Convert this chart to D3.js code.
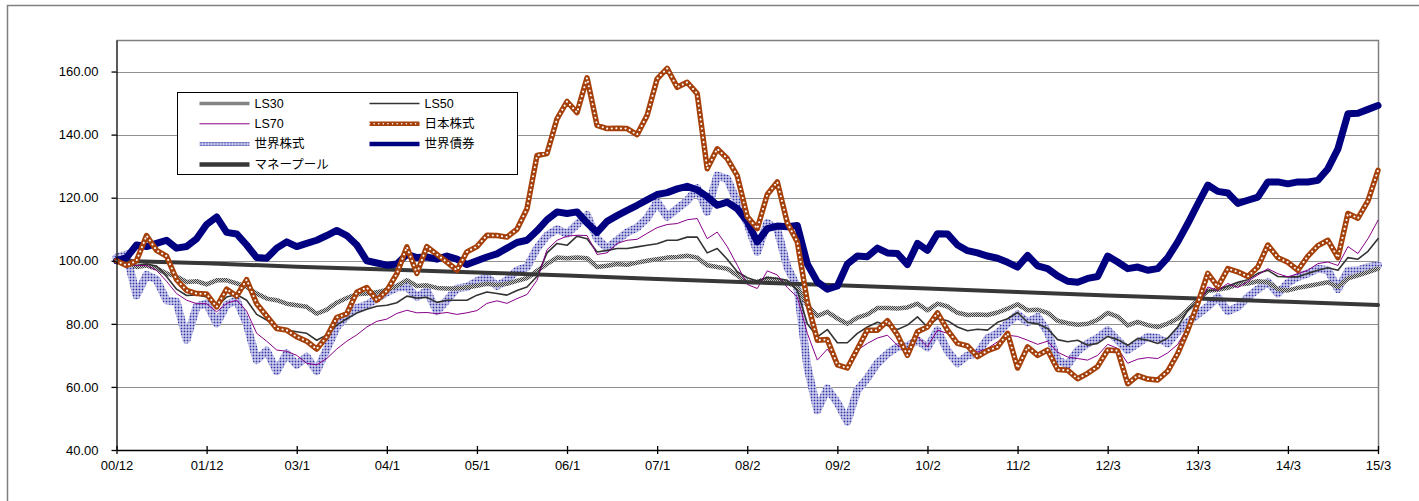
<!DOCTYPE html>
<html>
<head>
<meta charset="utf-8">
<script src="https://cdn.jsdelivr.net/npm/d3@7"></script>
<style>
  body { margin: 0; background: #fff; }
  text { font-family: "Liberation Sans", Arial, "Noto Sans CJK JP", sans-serif; fill: #000; }
</style>
</head>
<body>
<svg id="chart" width="1419" height="501"></svg>
<script>
// tick labels on the category axis
var xLabels = ["00/12", "01/12", "03/1", "04/1", "05/1", "06/1", "07/1", "08/2",
    "09/2", "10/2", "11/2", "12/3", "13/3", "14/3", "15/3"];
var yTicks = [40, 60, 80, 100, 120, 140, 160];

// series, sampled evenly from 00/12 to 15/3
var ls30 = [100, 99.5, 98, 98.5, 97.5, 96, 95, 93.3, 93.5, 92.5,
    93.8, 93.8, 92.8, 91.7, 89.6, 88, 87.5, 86.4, 85.9, 85.4,
    83.2, 84.5, 86.7, 88.2, 89.4, 89.6, 90, 90.8, 92, 93.8,
    92, 92.2, 91.4, 91.2, 91.2, 91.6, 92.1, 92.7, 92.3, 92.7,
    93.6, 94.5, 96.8, 99, 101, 100.8, 101, 100.8, 98, 98.4,
    99, 98.7, 99.4, 100, 100.5, 101, 101.2, 101.6, 101, 98.6,
    98, 97.5, 95.4, 93.3, 93.3, 94.4, 94, 93, 91.7, 85.9,
    82.5, 83.8, 81.7, 80, 82, 83, 85, 85, 84.9, 85.2,
    86.4, 84.3, 86.4, 85.5, 83.5, 82.8, 83, 82.8, 83.6, 84.8,
    86.2, 84.3, 84.5, 83.5, 81, 80.2, 79.7, 80, 81.3, 83.5,
    82.3, 79.5, 80.6, 79.6, 79, 80.1, 81.7, 84.5, 87.5, 90.5,
    90.8, 91.4, 92.5, 92.8, 93.5, 93.2, 91, 90.6, 91.4, 92,
    92.6, 93.2, 91.7, 94.4, 95.4, 96.4, 97.5];

var ls50 = [100, 99.3, 98.5, 99, 98.3, 95, 91, 89, 89.2, 88.5,
    85.4, 88.5, 89.3, 87.5, 83, 81.2, 79, 78, 77.5, 77,
    74.8, 76.5, 79.6, 81.6, 83.4, 84.6, 85.6, 85.9, 86.7, 88.8,
    88.2, 88.4, 86.8, 87.5, 87.5, 87.5, 89.1, 90.1, 89.6, 89.1,
    90.6, 91.7, 95, 102.5, 105.5, 104.9, 107.8, 107, 102.8, 103.3,
    103.9, 103.9, 104.4, 104.9, 105.4, 106.5, 106.5, 107.5, 107.5, 102.5,
    103.9, 100.5, 96.5, 94.6, 93.6, 94.7, 94.4, 93.8, 90.6, 80,
    75.9, 78.2, 74, 74, 77, 79, 80.5, 79.5, 78.2, 79.6,
    82.2, 79, 81.7, 81, 79, 77.8, 78.3, 78, 80.5, 81.6,
    83.6, 80.5, 80, 78.5, 75, 74.3, 74.8, 73.2, 73.8, 76,
    75, 73.2, 75.4, 74.8, 73.8, 75.5, 79, 84.3, 87, 90.5,
    90.8, 92, 93.2, 94, 96, 97, 95, 94.9, 94.9, 96,
    97, 97.8, 97, 101, 100.5, 103, 107];

var ls70 = [100, 99, 98.5, 98.5, 97, 93.5, 89.6, 87.5, 86.4, 86.4,
    83.8, 86.5, 87.5, 84, 77, 74.5, 71.7, 71.3, 70, 67.5,
    67, 69, 72, 74.5, 76.5, 79, 80.8, 81.5, 83.3, 84.3,
    83.5, 83.6, 83.2, 83.6, 83, 83.5, 84.2, 86.5, 87.3, 86.5,
    88, 89.3, 93.8, 103.5, 106.5, 107.8, 108.1, 108, 102, 102.5,
    105.5, 106.5, 106.8, 108.7, 110.5, 111.5, 111.8, 113, 113.4, 107,
    109.1, 104.5, 98.6, 92.5, 91.2, 96.8, 95.5, 91.5, 88.5, 77,
    68.5, 72, 67.5, 66, 71.7, 73.8, 75.5, 76.4, 73.2, 71.7,
    75.9, 72.7, 78, 77, 74, 72.7, 71.1, 72.2, 74.3, 76.4,
    76, 74.8, 73.5, 74.5, 71, 69.5, 69, 68.5, 70, 73.5,
    72.2, 67.5, 68.8, 69.3, 69, 70.8, 73.5, 79, 85.4, 91.7,
    90.6, 92.8, 91.5, 93.5, 95.5, 97.5, 95.9, 94.9, 95.9, 97,
    99.1, 99.6, 98.5, 104.5, 102.3, 107, 112.8];

var jpStock = [100, 98.5, 100, 108, 103.3, 101.5, 94, 90.6, 89.6, 89.5,
    85.4, 91, 88.8, 94, 86.4, 82.5, 78.5, 78, 75.9, 74.5,
    72, 75.9, 82, 83.2, 90, 91.5, 87.5, 90.5, 95.9, 104.4,
    96, 104.5, 102, 99.6, 97, 102.8, 104.5, 108.1, 108, 107.5,
    110, 116.5, 133.4, 134, 145, 150.5, 147, 158, 142.9, 141.9,
    142, 141.9, 140, 146.1, 157.7, 161, 155, 156.6, 153, 129.2,
    135.5, 132.4, 127, 114, 110.2, 121, 125, 112, 106, 87,
    74.8, 75, 67, 66, 72, 78, 78, 81, 76.5, 70,
    77.5, 79, 83.5, 78, 73.8, 73, 69.6, 71.5, 72.7, 77,
    66, 72.7, 70, 71.7, 65.5, 65.3, 62.6, 64.3, 66.5, 71.7,
    71.5, 61, 63.6, 62.5, 62.2, 65, 70.6, 78, 86.5, 96,
    91.7, 97.5, 96.5, 95, 98, 105, 101, 99.5, 97, 101.5,
    104.8, 106.5, 101, 115, 113.5, 119, 128.7];

var wStock = [101, 102, 89, 95.5, 94, 87.5, 87, 75, 85.5, 86.5,
    80.1, 86, 87.5, 80, 68.5, 71.5, 65, 70.6, 67, 69.6,
    65, 72, 79, 82.5, 85, 86, 88, 90, 91.5, 91.7,
    88.5, 90.5, 84, 87.5, 91.2, 91.7, 93.5, 94.9, 92, 93.8,
    97, 98, 104, 108, 110, 108.5, 111.5, 114.5, 107, 103.9,
    106.5, 109, 110.5, 113.5, 118.6, 114, 116.5, 119, 123, 115.5,
    127, 126, 118.6, 112, 102.8, 112, 110, 98, 91.7, 66.4,
    52.6, 59.5, 55, 49, 59, 62.8, 67.5, 70.5, 72.7, 73,
    74.8, 72.5, 78, 71.5, 67.5, 70, 70.6, 75.4, 77, 80.2,
    83, 80.5, 82.2, 77.5, 68.5, 67, 71.5, 73.8, 75.5, 78,
    74.8, 71.7, 73.8, 75.9, 75.5, 73.8, 77.5, 80.6, 83, 85.5,
    88.5, 84, 85.4, 88.5, 91, 93.3, 89.6, 93, 94.9, 96,
    97.5, 97, 91, 96.8, 97, 98, 98.6];

var wBond = [100, 101, 105, 104.5, 105.5, 106.5, 104, 104.5, 107, 111.5,
    113.9, 109, 108.5, 105, 101, 100.8, 104, 106, 104.5, 105.5,
    106.5, 108, 109.6, 108, 105, 100, 99.3, 98.6, 99, 102,
    101, 101.2, 100.5, 101.5, 100.5, 98.8, 100, 101.2, 102.2, 104,
    105.8, 106.5, 109.5, 113, 115.5, 115, 115.5, 112, 109, 112.5,
    114.3, 116, 117.6, 119.3, 121, 121.6, 122.8, 123.6, 122.5, 120.3,
    117.6, 118.6, 116.5, 112.5, 106, 110.2, 111, 110.8, 111.2, 99,
    93.3, 91, 92, 99, 101.5, 101.3, 104, 102.5, 102.3, 98.8,
    105.5, 103.3, 108.6, 108.5, 105, 103.2, 102.5, 101.5, 100.8, 99.5,
    98, 101.7, 98.4, 97.5, 95.2, 93.5, 93.2, 94.4, 95, 101.5,
    99.6, 97.5, 98, 97, 97.5, 101, 106, 111.8, 118, 124,
    122, 121.5, 118.2, 119.2, 120.2, 125, 125, 124.4, 125, 125,
    125.5, 129.2, 135.5, 146.6, 146.8, 148, 149.2];

// one value per axis label
var moneyPool = [100, 99.2, 98.1, 97.2, 96.3, 95.3, 94.2, 93.2, 92.2, 91.2,
    90.1, 89, 88, 87, 86];

var svg = d3.select("#chart");

// outer chart frame
svg.append("rect")
    .attr("x", 7.5).attr("y", 5.5)
    .attr("width", 1430).attr("height", 520)
    .attr("fill", "none")
    .attr("stroke", "#808080")
    .attr("stroke-width", 1.5);

var X = d3.scaleLinear().domain([0, xLabels.length - 1]).range([116.5, 1378]);
var Y = d3.scaleLinear().domain([40, 170]).range([450, 40]);

// patterns for the textured lines
var defs = svg.append("defs");
var p30 = defs.append("pattern").attr("id", "patLS30")
    .attr("patternUnits", "userSpaceOnUse").attr("width", 2).attr("height", 2);
p30.append("rect").attr("width", 2).attr("height", 2).attr("fill", "#c8c8c8");
p30.append("rect").attr("width", 1).attr("height", 1).attr("fill", "#404040");
p30.append("rect").attr("x", 1).attr("y", 1).attr("width", 1).attr("height", 1).attr("fill", "#404040");

var pws = defs.append("pattern").attr("id", "patWS")
    .attr("patternUnits", "userSpaceOnUse").attr("width", 3).attr("height", 3);
pws.append("rect").attr("width", 3).attr("height", 3).attr("fill", "#dfe0f5");
pws.append("rect").attr("x", 0.6).attr("y", 0.6).attr("width", 1.8).attr("height", 1.8).attr("fill", "#3434a6");

// plot area frame (top / right)
svg.append("path")
    .attr("d", "M116.5,40.5H1378.5V450")
    .attr("fill", "none")
    .attr("stroke", "#808080")
    .attr("stroke-width", 1.5);

// gridlines
svg.append("g").selectAll("line")
    .data(yTicks.filter(function (d) { return d > 40; }))
    .join("line")
    .attr("x1", 116.5).attr("x2", 1378)
    .attr("y1", function (d) { return Math.round(Y(d)) + 0.5; })
    .attr("y2", function (d) { return Math.round(Y(d)) + 0.5; })
    .attr("stroke", "#222")
    .attr("stroke-width", 1)
    .attr("stroke-dasharray", "1,1");

function lineFor(values) {
    var n = values.length;
    return d3.line()
        .x(function (d, i) { return X(i * (xLabels.length - 1) / (n - 1)); })
        .y(function (d) { return Y(d); })(values);
}

var styles = {
    ls30: [{ stroke: "url(#patLS30)", width: 4.5 }],
    ls50: [{ stroke: "#333", width: 1.6 }],
    ls70: [{ stroke: "#880088", width: 1 }],
    jp: [{ stroke: "#a5400a", width: 5.5 }, { stroke: "#fff", width: 2, dash: "0.1,4.5" }],
    ws: [{ stroke: "url(#patWS)", width: 8 }],
    wb: [{ stroke: "#000080", width: 7 }],
    mp: [{ stroke: "#383838", width: 4 }]
};

var series = [
    { key: "ws", values: wStock },
    { key: "ls30", values: ls30 },
    { key: "ls50", values: ls50 },
    { key: "ls70", values: ls70 },
    { key: "mp", values: moneyPool },
    { key: "wb", values: wBond },
    { key: "jp", values: jpStock }
];

var gLines = svg.append("g");
series.forEach(function (s) {
    styles[s.key].forEach(function (st) {
        gLines.append("path")
            .attr("d", lineFor(s.values))
            .attr("fill", "none")
            .attr("stroke", st.stroke)
            .attr("stroke-width", st.width)
            .attr("stroke-linejoin", "round")
            .attr("stroke-linecap", "round")
            .attr("stroke-dasharray", st.dash || null);
    });
});

// axes
svg.append("g")
    .attr("transform", "translate(116.5,0)")
    .call(d3.axisLeft(Y).tickValues(yTicks).tickFormat(d3.format(".2f"))
        .tickSize(5).tickSizeOuter(0).tickPadding(13))
    .call(function (g) {
        g.selectAll("text").style("font-size", "13px").attr("fill", "#000");
        g.selectAll("line, path").attr("stroke", "#000").attr("stroke-width", 1.3);
    });

svg.append("g")
    .attr("transform", "translate(0,450)")
    .call(d3.axisBottom(X).tickValues(d3.range(xLabels.length))
        .tickFormat(function (i) { return xLabels[i]; })
        .tickSize(4).tickSizeOuter(0).tickPadding(7))
    .call(function (g) {
        g.selectAll(".tick line").attr("y1", -4).attr("y2", 4);
        g.selectAll("text").style("font-size", "13px").attr("fill", "#000");
        g.selectAll("line, path").attr("stroke", "#000").attr("stroke-width", 1.3);
    });

// legend
var legendItems = [
    { key: "ls30", name: "LS30" }, { key: "ls50", name: "LS50" },
    { key: "ls70", name: "LS70" }, { key: "jp", name: "日本株式" },
    { key: "ws", name: "世界株式" }, { key: "wb", name: "世界債券" },
    { key: "mp", name: "マネープール" }
];
var legendWidth = { ls30: 3.5, ls50: 1.5, ls70: 1, jp: [4.5, 1.5], ws: 4, wb: 4.5, mp: 4.5 };

var gLeg = svg.append("g").attr("transform", "translate(177.5,92.5)");
gLeg.append("rect")
    .attr("width", 340).attr("height", 82)
    .attr("fill", "#fff")
    .attr("stroke", "#000")
    .attr("stroke-width", 1);

legendItems.forEach(function (it, i) {
    var col = i % 2, row = Math.floor(i / 2);
    var gx = 22 + col * 170, gy = 11 + row * 20.3;
    var item = gLeg.append("g").attr("transform", "translate(" + gx + "," + gy + ")");
    styles[it.key].forEach(function (st, j) {
        var w = Array.isArray(legendWidth[it.key]) ? legendWidth[it.key][j] : legendWidth[it.key];
        item.append("line")
            .attr("x1", 0).attr("x2", 50)
            .attr("stroke", st.stroke)
            .attr("stroke-width", w)
            .attr("stroke-dasharray", st.dash || null)
            .attr("stroke-linecap", st.dash ? "round" : "butt");
    });
    item.append("text")
        .attr("x", 55).attr("y", 0).attr("dy", "0.35em")
        .style("font-size", "12.5px")
        .text(it.name);
});
</script>
</body>
</html>
